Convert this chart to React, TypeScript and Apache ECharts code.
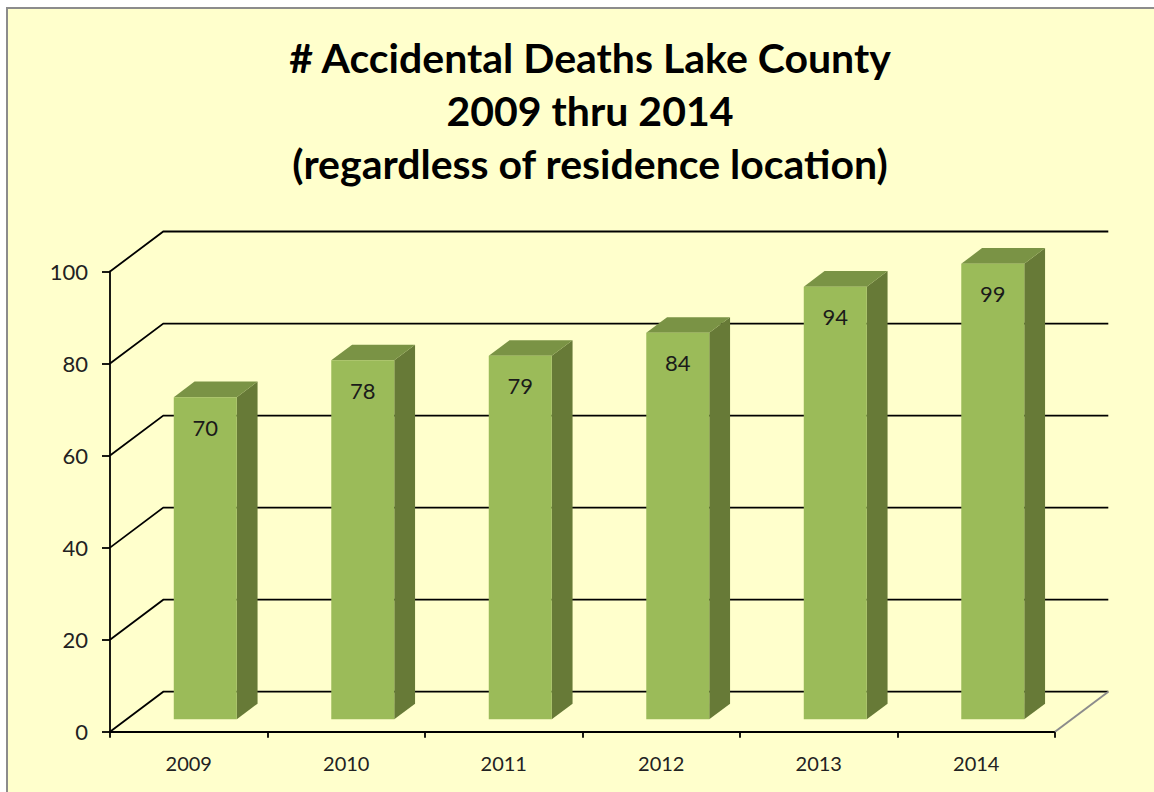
import React, { useEffect, useRef } from "react";
import * as echarts from "echarts";

const categories = ["2009", "2010", "2011", "2012", "2013", "2014"];
const deaths = [70, 78, 79, 84, 94, 99];
const yTicks = [0, 20, 40, 60, 80, 100];
const titleLines = [
  "# Accidental Deaths Lake County",
  "2009 thru 2014",
  "(regardless of residence location)",
];

// 3D projection constants (pixels)
const DX = 53.3;
const DY = -40;
const F1 = 0.31;
const F2 = 0.7;

export default function App() {
  const ref = useRef<HTMLDivElement>(null);
  useEffect(() => {
    if (!ref.current) return;
    const chart = echarts.init(ref.current, null, { renderer: "svg" });
    const option: any = {
      animation: false,
      backgroundColor: "#ffffff",
      graphic: [
        {
          type: "rect",
          z: -10,
          shape: { x: 7, y: 8, width: 1160, height: 800 },
          style: { fill: "#FFFFCC", stroke: "#8c8c8c", lineWidth: 2 },
          silent: true,
        },
      ],
      title: {
        text: titleLines.join("\n"),
        left: 585,
        textAlign: "center",
        top: 26,
        textStyle: {
          fontFamily: "Lato",
          fontWeight: "bold",
          fontSize: 41,
          lineHeight: 53,
          color: "#000",
        },
      },
      grid: { left: 110, top: 271.5, width: 945, height: 460.2, containLabel: false },
      xAxis: {
        type: "category",
        data: categories,
        boundaryGap: true,
        axisLine: { show: true, lineStyle: { color: "#000", width: 1.8 } },
        axisTick: { show: true, length: 6, alignWithLabel: false, lineStyle: { color: "#000", width: 1.8 } },
        axisLabel: { margin: 21, fontFamily: "Lato", fontSize: 20, color: "#222" },
        splitLine: { show: false },
      },
      yAxis: {
        type: "value",
        min: 0,
        max: 100,
        interval: 20,
        axisLine: { show: true, lineStyle: { color: "#000", width: 1.8 } },
        axisTick: { show: true, length: 8, inside: false, lineStyle: { color: "#000", width: 1.8 } },
        axisLabel: { margin: 22, fontFamily: "Lato", fontSize: 22, color: "#222" },
        splitLine: { show: false },
      },
      series: [
        {
          type: "custom",
          name: "grid",
          z: 1,
          silent: true,
          data: yTicks.map((v) => [0, v]),
          encode: { x: 0, y: 1 },
          renderItem: (params: any, api: any) => {
            const v = api.value(1);
            const cs = params.coordSys;
            const y = api.coord([0, v])[1];
            const x0 = cs.x;
            const x1 = cs.x + cs.width;
            const children: any[] = [
              {
                type: "polyline",
                shape: { points: [[x0, y], [x0 + DX, y + DY], [x1 + DX, y + DY]] },
                style: { stroke: "#000", lineWidth: 1.8, fill: "none" },
              },
            ];
            if (v === 0) {
              children.push({
                type: "line",
                shape: { x1: x1, y1: y, x2: x1 + DX, y2: y + DY },
                style: { stroke: "#8c8c8c", lineWidth: 2 },
              });
            }
            return { type: "group", children };
          },
        },
        {
          type: "custom",
          name: "deaths",
          z: 3,
          data: deaths.map((v, i) => [i, v]),
          encode: { x: 0, y: 1 },
          renderItem: (params: any, api: any) => {
            const idx = api.value(0);
            const val = api.value(1);
            const top = api.coord([idx, val]);
            const base = api.coord([idx, 0]);
            const cw = api.size([1, 0])[0];
            const w = cw * 0.4;
            const ox = F1 * DX;
            const oy = F1 * DY;
            const dx = (F2 - F1) * DX;
            const dy = (F2 - F1) * DY;
            const xl = top[0] + ox - w / 2;
            const xr = xl + w;
            const yt = top[1] + oy;
            const yb = base[1] + oy;
            return {
              type: "group",
              children: [
                {
                  type: "polygon",
                  shape: { points: [[xr, yt], [xr + dx, yt + dy], [xr + dx, yb + dy], [xr, yb]] },
                  style: { fill: "#677A37" },
                },
                {
                  type: "polygon",
                  shape: { points: [[xl, yt], [xl + dx, yt + dy], [xr + dx, yt + dy], [xr, yt]] },
                  style: { fill: "#7A9345" },
                },
                {
                  type: "rect",
                  shape: { x: xl, y: yt, width: w, height: yb - yt },
                  style: { fill: "#9BBB59" },
                },
                {
                  type: "text",
                  style: {
                    text: String(val),
                    x: xl + w / 2,
                    y: yt + 30,
                    align: "center",
                    verticalAlign: "middle",
                    fill: "#1a1a1a",
                    fontSize: 22,
                    fontFamily: "Lato",
                  },
                },
              ],
            };
          },
        },
      ],
    };
    chart.setOption(option);
    return () => chart.dispose();
  }, []);
  return (
    <div
      ref={ref}
      style={{ position: "fixed", left: 0, top: 0, width: 1154, height: 792 }}
    />
  );
}
